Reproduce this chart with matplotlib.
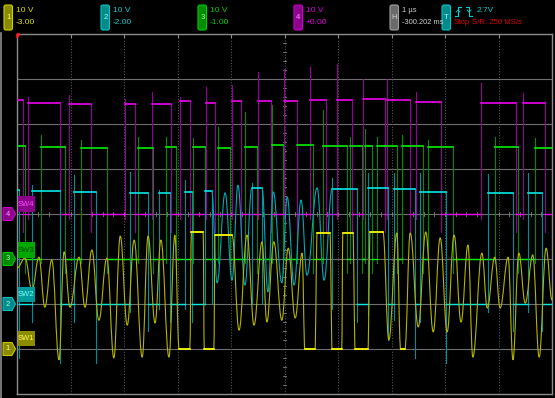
import matplotlib
matplotlib.use("Agg")
import matplotlib.pyplot as plt
import numpy as np
from matplotlib.path import Path
from matplotlib.patches import PathPatch, FancyBboxPatch, Polygon, Rectangle

# scope setup (10 V/div, offsets in divisions, 1 us/div)
volts_per_div = 10.0
ch1_offset, ch2_offset, ch3_offset, ch4_offset = -3.0, -2.0, -1.0, 0.0

# SW4 (ch4): pulse rise/fall [us], high level [V], overshoot peak [V]
sw4_rise = [0.00, 0.21, 0.97, 2.02, 2.52, 3.05, 3.53, 4.02, 4.50, 4.99, 5.48, 5.98, 6.47, 6.92, 7.46, 8.67, 9.46]
sw4_fall = [0.11, 0.80, 1.38, 2.21, 2.88, 3.23, 3.70, 4.19, 4.75, 5.23, 5.78, 6.26, 6.88, 7.35, 7.93, 9.33, 9.87]
sw4_high = [25.3, 24.7, 24.4, 24.4, 24.4, 25.0, 24.7, 25.1, 25.1, 25.1, 25.3, 25.3, 25.5, 25.3, 24.9, 24.7, 24.7]
sw4_peak = [25.3, 26.0, 26.4, 25.6, 27.1, 26.0, 28.2, 28.7, 31.6, 32.2, 32.7, 33.3, 30.0, 30.0, 27.1, 29.1, 26.9]
sw4_dip = -4.0

# SW3 (ch3)
sw3_rise = [0.00, 0.45, 1.20, 2.26, 2.79, 3.29, 3.76, 4.26, 4.77, 5.23, 5.72, 6.22, 6.50, 6.73, 7.20, 7.68, 8.93, 9.68]
sw3_fall = [0.15, 0.90, 1.68, 2.54, 2.97, 3.51, 3.98, 4.49, 4.97, 5.53, 6.17, 6.45, 6.64, 7.10, 7.59, 8.15, 9.36, 10.0]
sw3_high = [25.1, 24.9, 24.7, 24.7, 24.9, 24.9, 24.7, 24.9, 25.3, 25.3, 25.1, 25.1, 25.1, 25.1, 25.1, 24.9, 24.9, 24.7]
sw3_peak = [25.1, 27.6, 26.4, 27.1, 27.1, 26.9, 29.3, 32.7, 34.2, 27.6, 33.1, 27.1, 28.9, 27.1, 27.6, 26.4, 27.1, 26.9]
sw3_dip = -3.0

# SW2 (ch2)
sw2_rise = [0.00, 0.28, 1.07, 2.11, 2.65, 3.14, 3.51, 4.39, 5.89, 6.56, 7.05, 7.53, 8.80, 9.55]
sw2_fall = [0.04, 0.80, 1.48, 2.45, 2.86, 3.27, 3.64, 4.58, 6.36, 6.93, 7.44, 8.02, 9.27, 9.81]
sw2_high = [25.3, 25.0, 24.9, 24.7, 24.7, 24.9, 25.1, 25.8, 25.6, 25.8, 25.6, 24.9, 24.7, 24.7]
sw2_peak = [25.3, 26.4, 28.7, 29.3, 25.3, 27.6, 25.5, 26.9, 28.0, 29.1, 29.1, 29.1, 28.9, 29.1]
sw2_dip = [-12, -13, -13, -6, -4, -4, 0, 0, -4, -8, -12, -13, -6, -6]
# SW2 ringing between pulses
sw2_ring1_t = [3.64, 3.74, 3.89, 4.02, 4.13, 4.26, 4.39]
sw2_ring1_v = [25.1, 4.7, 24.7, 5.3, 26.4, 4.2, 25.8]
sw2_ring2_t = [4.58, 4.69, 4.79, 4.95, 5.05, 5.18, 5.31, 5.42, 5.61, 5.74, 5.89]
sw2_ring2_v = [25.8, 2.7, 24.9, 4.7, 23.8, 4.2, 23.1, 6.4, 25.8, 5.3, 25.6]

# SW1 (ch1): peaks / troughs / flats [us, V]
sw1_t = [0.00, 0.15, 0.28, 0.41, 0.52, 0.65, 0.785, 0.88, 0.99, 1.16, 1.27, 1.40, 1.53, 1.68, 1.81, 1.93,
         2.06, 2.19, 2.34, 2.45, 2.58, 2.69, 2.84, 2.95, 3.03, 3.23, 3.26, 3.48, 3.50, 3.68, 3.70, 4.02,
         4.15, 4.30, 4.43, 4.58, 4.67, 4.80, 4.95, 5.07, 5.20, 5.33, 5.38, 5.57, 5.61, 5.85, 5.89, 6.07,
         6.09, 6.28, 6.32, 6.56, 6.60, 6.84, 6.95, 7.10, 7.17, 7.25, 7.35, 7.50, 7.64, 7.78, 7.91, 8.04,
         8.17, 8.30, 8.43, 8.52, 8.69, 8.79, 8.93, 9.03, 9.18, 9.27, 9.38, 9.50, 9.64, 9.76, 9.89, 10.0]
sw1_v = [18.0, 20.2, 13.1, 20.4, 9.3, 19.8, -2.4, 21.6, 9.3, 20.4, 9.3, 22.0, 6.4, 20.2, -2.0, 25.1,
         5.3, 24.2, -1.8, 25.1, 5.8, 24.2, -1.8, 25.3, 0.0, 0.0, 26.0, 26.0, 0.0, 0.0, 25.3, 25.3,
         4.2, 25.3, 5.3, 23.8, 6.0, 23.8, 6.4, 22.4, 6.9, 21.3, 0.0, 0.0, 25.8, 25.8, 0.0, 0.0,
         25.8, 25.8, 0.0, 0.0, 26.0, 26.0, 2.0, 25.8, 0.0, 0.0, 25.8, 4.9, 26.0, 3.8, 24.7, 3.8,
         25.3, 6.0, 23.1, -1.8, 21.3, 9.1, 20.4, 9.1, 20.4, -2.4, 21.3, 10.2, 20.9, -1.8, 22.4, 10.9]

YEL, YEL_D = "#ffff00", "#b4b400"
CYA, CYA_D = "#00e8e8", "#008c99"
GRN, GRN_D = "#00f000", "#008c00"
MAG, MAG_D = "#f000f0", "#960096"


def yv(v, off):
    return np.asarray(v, dtype=float) / volts_per_div + off


def draw_pulses(ax, rise, fall, high, peak, dip, off, bright, dim, z, skip_low=()):
    if np.isscalar(dip):
        dip = [dip] * len(rise)
    lows = [(0.0, rise[0])] + [(fall[i], rise[i + 1]) for i in range(len(rise) - 1)] + [(fall[-1], 10.0)]
    for a, b in lows:
        if b > a and a not in skip_low:
            ax.plot([a, b], [off, off], color=bright, lw=1.0, zorder=z)
    for r, f, h, p, d in zip(rise, fall, high, peak, dip):
        if r > 0:
            ax.plot([r, r], [yv(d * 0.3, off), yv(p, off)], color=dim, lw=0.8, zorder=z - 1)
        if f < 10:
            ax.plot([f, f], [yv(h, off), yv(d, off)], color=dim, lw=0.8, zorder=z - 1)
        ax.plot([r, f], [yv(h, off)] * 2, color=bright, lw=1.2, zorder=z)


def smooth(ax, t, v, off, color, bright, lw, z):
    y = yv(v, off)
    verts = [(t[0], y[0])]
    codes = [Path.MOVETO]
    for i in range(len(t) - 1):
        dt = t[i + 1] - t[i]
        verts += [(t[i] + 0.4 * dt, y[i]), (t[i + 1] - 0.4 * dt, y[i + 1]), (t[i + 1], y[i + 1])]
        codes += [Path.CURVE4] * 3
    ax.add_patch(PathPatch(Path(verts, codes), fill=False, edgecolor=color, lw=lw, zorder=z))
    for i in range(len(t) - 1):
        if v[i] == v[i + 1]:
            ax.plot([t[i], t[i + 1]], [y[i], y[i]], color=bright, lw=1.2, zorder=z + 0.5)


fig = plt.figure(figsize=(5.55, 3.98), dpi=100, facecolor="black")
ax = fig.add_axes([17 / 555, 4 / 398, 535 / 555, 360 / 398], facecolor="black")
ax.set_xlim(0, 10)
ax.set_ylim(-4, 4)
ax.set_xticks([])
ax.set_yticks([])
for s in ax.spines.values():
    s.set_color("#8c8c8c")
    s.set_linewidth(1.0)

# graticule
for k in range(-3, 4):
    ax.axhline(k, color="#6e6e6e", lw=0.8, zorder=0)
for k in range(1, 10):
    ax.axvline(k, color="#555555", lw=0.8, ls=(0, (1, 1.5)), zorder=0)
    ax.plot([k, k], [4, 3.93], color="#8c8c8c", lw=0.8, zorder=0)
for x in np.arange(0.2, 10, 0.2):
    ax.plot([x, x], [-0.04, 0.04], color="#808080", lw=0.6, zorder=0)
for y in np.arange(-3.8, 4, 0.2):
    ax.plot([4.97, 5.03], [y, y], color="#808080", lw=0.6, zorder=0)

draw_pulses(ax, sw3_rise, sw3_fall, sw3_high, sw3_peak, sw3_dip, ch3_offset, GRN, GRN_D, 3)
draw_pulses(ax, sw4_rise, sw4_fall, sw4_high, sw4_peak, sw4_dip, ch4_offset, MAG, MAG_D, 3)
draw_pulses(ax, sw2_rise, sw2_fall, sw2_high, sw2_peak, sw2_dip, ch2_offset, CYA, CYA_D, 4,
            skip_low=(sw2_ring1_t[0], sw2_ring2_t[0]))
smooth(ax, sw2_ring1_t, sw2_ring1_v, ch2_offset, "#00a8b8", CYA, 0.8, 4)
smooth(ax, sw2_ring2_t, sw2_ring2_v, ch2_offset, "#00a8b8", CYA, 0.8, 4)
smooth(ax, sw1_t, sw1_v, ch1_offset, YEL_D, YEL, 0.8, 5)

# overlay for header, left strip and labels (pixel coordinates)
hud = fig.add_axes([0, 0, 1, 1], zorder=5)
hud.set_xlim(0, 555)
hud.set_ylim(398, 0)
hud.axis("off")
fam = ["Liberation Sans Narrow", "Liberation Sans", "DejaVu Sans"]

hud.plot([1, 1], [33, 398], color="#8c8c8c", lw=1.2)
hud.add_patch(Polygon([[17, 34], [20, 34], [17, 38]], closed=True, color="#ff2020"))

badges = [
    (4, "1", "#8a8a00", "#d0d000", "#ffff90", ["10 V", "-3.00"], "#e0e000", 6),
    (101, "2", "#008a8a", "#00c8c8", "#a0ffff", ["10 V", "-2.00"], "#00d0d0", 6),
    (198, "3", "#008c00", "#00d000", "#a0ffa0", ["10 V", "-1.00"], "#00d000", 6),
    (294, "4", "#8c008c", "#d000d0", "#ffa0ff", ["10 V", "+0.00"], "#e000e0", 6),
    (390, "H", "#6a6a6a", "#a0a0a0", "#d0d0d0", ["1 \u00b5s", "-300.202 ms"], "#d0d0d0", 5.4),
    (442, "T", "#008a8a", "#00c8c8", "#a0ffff", [], "#00d0d0", 6),
]
for x0, lab, fc, ec, tc, lines, col, fs in badges:
    hud.add_patch(FancyBboxPatch((x0, 5), 8.5, 25, boxstyle="round,pad=0,rounding_size=2",
                                 facecolor=fc, edgecolor=ec, lw=0.8))
    hud.text(x0 + 4.3, 17.5, lab, color=tc, fontsize=5.5, ha="center", va="center", family=fam)
    for j, s in enumerate(lines):
        hud.text(x0 + 12, 10 + 12 * j, s, color=col, fontsize=fs, ha="left", va="center", family=fam)

# trigger edge icons
hud.plot([455, 458, 458, 461], [16, 16, 7, 7], color="#00d0d0", lw=0.8)
hud.plot([456, 458, 460], [12, 10, 12], color="#00d0d0", lw=0.6)
hud.plot([466, 469, 469, 472], [7, 7, 16, 16], color="#00d0d0", lw=0.8)
hud.plot([467, 469, 471], [10, 12, 10], color="#00d0d0", lw=0.6)
hud.text(477, 10, "2.7V", color="#00d0d0", fontsize=6, va="center", family=fam)
hud.text(454, 23, "Stop", color="#e00000", fontsize=5.6, va="center", family=fam)
hud.text(472, 23, "S/R: 250 MS/s", color="#e00000", fontsize=5.6, va="center", family=fam)

# ground markers
markers = [(349, "1", "#8a8a00", "#c8c800", "#ffff90"),
           (304, "2", "#008a8a", "#00c0c0", "#a0ffff"),
           (259, "3", "#008c00", "#00c800", "#a0ffa0"),
           (214, "4", "#8c008c", "#c800c8", "#ffa0ff")]
for y0, lab, fc, ec, tc in markers:
    hud.add_patch(Polygon([[3, y0 - 6.5], [12, y0 - 6.5], [15.5, y0], [12, y0 + 6.5], [3, y0 + 6.5]],
                          closed=True, facecolor=fc, edgecolor=ec, lw=0.8))
    hud.text(8, y0, lab, color=tc, fontsize=5.5, ha="center", va="center", family=fam)

# channel name labels
names = [(196, 212, "SW4", "#8a008a", "#ff50ff"),
         (242, 258, "SW3", "#00a800", "#004a00"),
         (287, 302, "SW2", "#009a9a", "#80ffff"),
         (331, 346, "SW1", "#8c8c00", "#ffff50")]
for ya, yb, s, fc, tc in names:
    hud.add_patch(Rectangle((17.5, ya), 17.5, yb - ya, facecolor=fc, edgecolor="none"))
    hud.text(26.2, (ya + yb) / 2, s, color=tc, fontsize=5.5, ha="center", va="center", family=fam)

fig.savefig("out.png", dpi=100, facecolor="black")
